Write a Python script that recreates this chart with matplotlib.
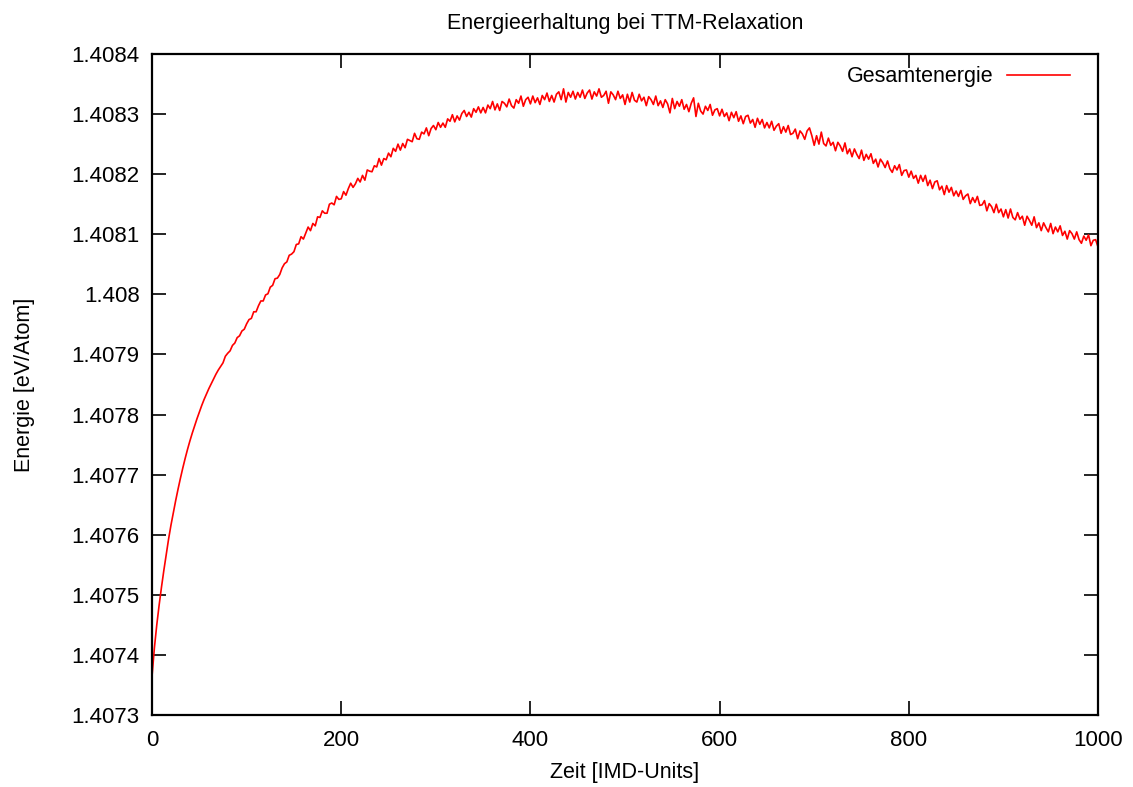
import numpy as np
import matplotlib
matplotlib.use("Agg")
import matplotlib.pyplot as plt
from matplotlib.ticker import FixedLocator

plt.rcParams['font.family'] = ['Liberation Sans', 'DejaVu Sans']

# Zeitachse (IMD-Units), Schrittweite 2.5
zeit = np.arange(0, 1000.01, 2.5)

gesamtenergie = [
    1.407365, 1.407412, 1.407450, 1.407483, 1.407513, 1.407541, 1.407567, 1.407593, 1.407616, 1.407637,
    1.407657, 1.407676, 1.407694, 1.407711, 1.407727, 1.407742, 1.407756, 1.407769, 1.407781, 1.407793,
    1.407804, 1.407815, 1.407825, 1.407834, 1.407843, 1.407851, 1.407859, 1.407867, 1.407874, 1.407880,
    1.407886, 1.407897, 1.407902, 1.407906, 1.407915, 1.407919, 1.407928, 1.407931, 1.407939, 1.407942,
    1.407951, 1.407958, 1.407960, 1.407971, 1.407971, 1.407981, 1.407989, 1.407989, 1.407999, 1.408001,
    1.408012, 1.408015, 1.408026, 1.408027, 1.408033, 1.408044, 1.408051, 1.408054, 1.408065, 1.408067,
    1.408071, 1.408083, 1.408084, 1.408096, 1.408092, 1.408102, 1.408112, 1.408106, 1.408118, 1.408114,
    1.408129, 1.408128, 1.408139, 1.408135, 1.408135, 1.408150, 1.408152, 1.408149, 1.408163, 1.408158,
    1.408159, 1.408171, 1.408165, 1.408176, 1.408185, 1.408178, 1.408184, 1.408193, 1.408187, 1.408198,
    1.408190, 1.408207, 1.408205, 1.408204, 1.408214, 1.408212, 1.408226, 1.408215, 1.408226, 1.408224,
    1.408235, 1.408229, 1.408243, 1.408238, 1.408250, 1.408240, 1.408251, 1.408244, 1.408258, 1.408256,
    1.408254, 1.408268, 1.408259, 1.408258, 1.408270, 1.408267, 1.408277, 1.408264, 1.408276, 1.408281,
    1.408274, 1.408286, 1.408278, 1.408285, 1.408278, 1.408292, 1.408288, 1.408299, 1.408287, 1.408297,
    1.408290, 1.408301, 1.408306, 1.408296, 1.408303, 1.408295, 1.408309, 1.408303, 1.408312, 1.408302,
    1.408311, 1.408302, 1.408315, 1.408309, 1.408321, 1.408307, 1.408317, 1.408306, 1.408321, 1.408318,
    1.408312, 1.408325, 1.408314, 1.408310, 1.408324, 1.408318, 1.408330, 1.408313, 1.408324, 1.408328,
    1.408317, 1.408330, 1.408319, 1.408327, 1.408316, 1.408331, 1.408324, 1.408335, 1.408321, 1.408331,
    1.408320, 1.408333, 1.408337, 1.408324, 1.408342, 1.408320, 1.408336, 1.408328, 1.408338, 1.408325,
    1.408336, 1.408328, 1.408340, 1.408326, 1.408335, 1.408340, 1.408325, 1.408337, 1.408330, 1.408342,
    1.408328, 1.408331, 1.408338, 1.408318, 1.408337, 1.408332, 1.408324, 1.408338, 1.408326, 1.408332,
    1.408316, 1.408333, 1.408320, 1.408336, 1.408323, 1.408320, 1.408333, 1.408322, 1.408328, 1.408314,
    1.408329, 1.408324, 1.408316, 1.408330, 1.408314, 1.408322, 1.408311, 1.408324, 1.408317, 1.408302,
    1.408326, 1.408309, 1.408321, 1.408313, 1.408324, 1.408308, 1.408316, 1.408304, 1.408318, 1.408327,
    1.408296, 1.408318, 1.408305, 1.408300, 1.408313, 1.408306, 1.408316, 1.408298, 1.408307, 1.408309,
    1.408297, 1.408308, 1.408296, 1.408302, 1.408289, 1.408303, 1.408294, 1.408304, 1.408288, 1.408297,
    1.408284, 1.408296, 1.408298, 1.408285, 1.408291, 1.408278, 1.408293, 1.408283, 1.408291, 1.408277,
    1.408286, 1.408277, 1.408288, 1.408273, 1.408280, 1.408284, 1.408268, 1.408279, 1.408270, 1.408281,
    1.408266, 1.408268, 1.408275, 1.408259, 1.408272, 1.408267, 1.408258, 1.408272, 1.408277, 1.408264,
    1.408248, 1.408264, 1.408250, 1.408270, 1.408251, 1.408247, 1.408260, 1.408248, 1.408253, 1.408239,
    1.408253, 1.408247, 1.408238, 1.408252, 1.408234, 1.408242, 1.408229, 1.408242, 1.408233, 1.408226,
    1.408240, 1.408223, 1.408233, 1.408225, 1.408234, 1.408218, 1.408225, 1.408212, 1.408225, 1.408219,
    1.408211, 1.408222, 1.408209, 1.408203, 1.408214, 1.408207, 1.408216, 1.408198, 1.408206, 1.408207,
    1.408195, 1.408205, 1.408193, 1.408198, 1.408185, 1.408198, 1.408188, 1.408198, 1.408181, 1.408190,
    1.408176, 1.408187, 1.408189, 1.408174, 1.408180, 1.408166, 1.408181, 1.408170, 1.408178, 1.408164,
    1.408172, 1.408163, 1.408173, 1.408158, 1.408164, 1.408167, 1.408151, 1.408161, 1.408153, 1.408163,
    1.408148, 1.408149, 1.408156, 1.408139, 1.408151, 1.408146, 1.408136, 1.408150, 1.408136, 1.408142,
    1.408129, 1.408141, 1.408127, 1.408142, 1.408128, 1.408124, 1.408136, 1.408125, 1.408130, 1.408115,
    1.408130, 1.408123, 1.408115, 1.408129, 1.408111, 1.408119, 1.408106, 1.408119, 1.408111, 1.408104,
    1.408118, 1.408101, 1.408112, 1.408104, 1.408114, 1.408098, 1.408105, 1.408092, 1.408106, 1.408101,
    1.408092, 1.408104, 1.408091, 1.408085, 1.408097, 1.408090, 1.408099, 1.408081, 1.408090, 1.408091,
    1.408079,
]

x_ticks = [0, 200, 400, 600, 800, 1000]
y_ticks = [1.4073, 1.4074, 1.4075, 1.4076, 1.4077, 1.4078, 1.4079,
           1.4080, 1.4081, 1.4082, 1.4083, 1.4084]
y_ticklabels = ['%g' % v for v in y_ticks]

fig = plt.figure(figsize=(11.33, 7.87), dpi=100)
ax = fig.add_axes([0.1342, 0.0915, 0.8349, 0.8399])

ax.plot(zeit, gesamtenergie, color='#ff0000', linewidth=1.2, label='Gesamtenergie')

ax.set_xlim(0, 1000)
ax.set_ylim(1.4073, 1.4084)
ax.xaxis.set_major_locator(FixedLocator(x_ticks))
ax.set_yticks(y_ticks)
ax.set_yticklabels(y_ticklabels)

ax.tick_params(direction='in', length=10, width=1.2, labelsize=16,
               top=True, right=True)
ax.tick_params(axis='x', pad=11)
ax.tick_params(axis='y', pad=9)
for s in ax.spines.values():
    s.set_linewidth(1.6)

ax.set_title('Energieerhaltung bei TTM-Relaxation', fontsize=15.5, pad=18)
ax.set_xlabel('Zeit [IMD-Units]', fontsize=15.5, labelpad=8)
ax.set_ylabel('Energie [eV/Atom]', fontsize=15.5, labelpad=26)

leg = ax.legend(loc='upper right', bbox_to_anchor=(0.9863, 1.0045), frameon=False,
                markerfirst=False, fontsize=15.5, handlelength=2.93,
                handletextpad=0.6, borderaxespad=0.3)

fig.savefig('out.png', dpi=100)
